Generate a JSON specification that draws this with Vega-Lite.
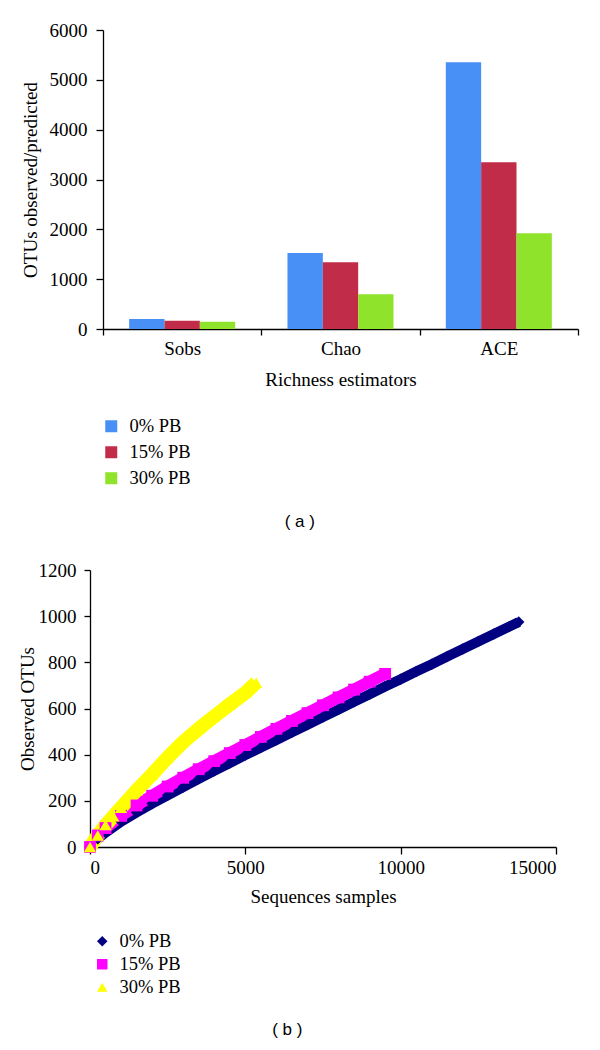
{
  "$schema": "https://vega.github.io/schema/vega-lite/v6.json",
  "background": "white",
  "padding": {"left": 18, "top": 21, "right": 5, "bottom": 5},
  "config": {
    "view": {"stroke": null},
    "font": "Liberation Serif",
    "axis": {
      "grid": false,
      "domainColor": "#000000",
      "domainWidth": 1.3,
      "tickColor": "#000000",
      "tickWidth": 1.3,
      "labelColor": "#000000",
      "titleColor": "#000000",
      "labelFont": "Liberation Serif",
      "titleFont": "Liberation Serif",
      "labelFontSize": 19,
      "titleFontSize": 19,
      "titleFontWeight": "normal"
    },
    "legend": {
      "labelFont": "Liberation Serif",
      "labelColor": "#000000",
      "labelFontSize": 18.5
    }
  },
  "datasets": {
    "bars": [
      {"Estimator": "Sobs", "Group": "0% PB", "OTUs": 200},
      {"Estimator": "Sobs", "Group": "15% PB", "OTUs": 167},
      {"Estimator": "Sobs", "Group": "30% PB", "OTUs": 147},
      {"Estimator": "Chao", "Group": "0% PB", "OTUs": 1526},
      {"Estimator": "Chao", "Group": "15% PB", "OTUs": 1339},
      {"Estimator": "Chao", "Group": "30% PB", "OTUs": 697},
      {"Estimator": "ACE", "Group": "0% PB", "OTUs": 5355},
      {"Estimator": "ACE", "Group": "15% PB", "OTUs": 3347},
      {"Estimator": "ACE", "Group": "30% PB", "OTUs": 1922}
    ],
    "curves": [
      {"Series": "0% PB", "Sequences": 0, "Observed": 0},
      {"Series": "0% PB", "Sequences": 250, "Observed": 35},
      {"Series": "0% PB", "Sequences": 500, "Observed": 62},
      {"Series": "0% PB", "Sequences": 1000, "Observed": 110},
      {"Series": "0% PB", "Sequences": 1500, "Observed": 150},
      {"Series": "0% PB", "Sequences": 2000, "Observed": 188},
      {"Series": "0% PB", "Sequences": 2500, "Observed": 224},
      {"Series": "0% PB", "Sequences": 3000, "Observed": 260},
      {"Series": "0% PB", "Sequences": 3500, "Observed": 295},
      {"Series": "0% PB", "Sequences": 4000, "Observed": 330},
      {"Series": "0% PB", "Sequences": 4500, "Observed": 364},
      {"Series": "0% PB", "Sequences": 5000, "Observed": 398},
      {"Series": "0% PB", "Sequences": 5500, "Observed": 431},
      {"Series": "0% PB", "Sequences": 6000, "Observed": 464},
      {"Series": "0% PB", "Sequences": 6500, "Observed": 497},
      {"Series": "0% PB", "Sequences": 7000, "Observed": 530},
      {"Series": "0% PB", "Sequences": 7500, "Observed": 563},
      {"Series": "0% PB", "Sequences": 8000, "Observed": 596},
      {"Series": "0% PB", "Sequences": 8500, "Observed": 629},
      {"Series": "0% PB", "Sequences": 9000, "Observed": 662},
      {"Series": "0% PB", "Sequences": 9500, "Observed": 695},
      {"Series": "0% PB", "Sequences": 10000, "Observed": 727},
      {"Series": "0% PB", "Sequences": 10500, "Observed": 760},
      {"Series": "0% PB", "Sequences": 11000, "Observed": 792},
      {"Series": "0% PB", "Sequences": 11500, "Observed": 825},
      {"Series": "0% PB", "Sequences": 12000, "Observed": 858},
      {"Series": "0% PB", "Sequences": 12500, "Observed": 890},
      {"Series": "0% PB", "Sequences": 13000, "Observed": 923},
      {"Series": "0% PB", "Sequences": 13500, "Observed": 955},
      {"Series": "0% PB", "Sequences": 13800, "Observed": 975},
      {"Series": "15% PB", "Sequences": 0, "Observed": 0},
      {"Series": "15% PB", "Sequences": 250, "Observed": 50},
      {"Series": "15% PB", "Sequences": 500, "Observed": 82},
      {"Series": "15% PB", "Sequences": 1000, "Observed": 135},
      {"Series": "15% PB", "Sequences": 1500, "Observed": 180},
      {"Series": "15% PB", "Sequences": 2000, "Observed": 222},
      {"Series": "15% PB", "Sequences": 2500, "Observed": 262},
      {"Series": "15% PB", "Sequences": 3000, "Observed": 300},
      {"Series": "15% PB", "Sequences": 3500, "Observed": 337},
      {"Series": "15% PB", "Sequences": 4000, "Observed": 372},
      {"Series": "15% PB", "Sequences": 4500, "Observed": 407},
      {"Series": "15% PB", "Sequences": 5000, "Observed": 442},
      {"Series": "15% PB", "Sequences": 5500, "Observed": 477},
      {"Series": "15% PB", "Sequences": 6000, "Observed": 512},
      {"Series": "15% PB", "Sequences": 6500, "Observed": 546},
      {"Series": "15% PB", "Sequences": 7000, "Observed": 580},
      {"Series": "15% PB", "Sequences": 7500, "Observed": 614},
      {"Series": "15% PB", "Sequences": 8000, "Observed": 648},
      {"Series": "15% PB", "Sequences": 8500, "Observed": 682},
      {"Series": "15% PB", "Sequences": 9000, "Observed": 716},
      {"Series": "15% PB", "Sequences": 9500, "Observed": 750},
      {"Series": "30% PB", "Sequences": 0, "Observed": 0},
      {"Series": "30% PB", "Sequences": 250, "Observed": 50},
      {"Series": "30% PB", "Sequences": 500, "Observed": 95},
      {"Series": "30% PB", "Sequences": 750, "Observed": 133},
      {"Series": "30% PB", "Sequences": 1000, "Observed": 170},
      {"Series": "30% PB", "Sequences": 1500, "Observed": 245},
      {"Series": "30% PB", "Sequences": 2000, "Observed": 315},
      {"Series": "30% PB", "Sequences": 2500, "Observed": 388},
      {"Series": "30% PB", "Sequences": 3000, "Observed": 455},
      {"Series": "30% PB", "Sequences": 3500, "Observed": 512},
      {"Series": "30% PB", "Sequences": 4000, "Observed": 566},
      {"Series": "30% PB", "Sequences": 4500, "Observed": 618},
      {"Series": "30% PB", "Sequences": 5000, "Observed": 668},
      {"Series": "30% PB", "Sequences": 5350, "Observed": 712}
    ]
  },
  "spacing": 31,
  "resolve": {"scale": {"color": "independent", "shape": "independent"}, "legend": {"color": "independent", "shape": "independent"}},
  "vconcat": [
    {
      "width": 488,
      "height": 299,
      "data": {"name": "bars"},
      "title": {"text": "( a )", "orient": "bottom", "frame": "bounds", "anchor": "middle", "font": "Liberation Sans", "fontSize": 17, "fontWeight": "normal", "color": "#000000", "offset": 26},
      "mark": {"type": "bar"},
      "encoding": {
        "x": {"field": "Estimator", "type": "nominal", "sort": ["Sobs", "Chao", "ACE"],
          "scale": {"paddingInner": 0, "paddingOuter": 0, "range": [13, 488]},
          "axis": {"title": "Richness estimators", "labelAngle": 0, "tickBand": "extent", "tickSize": 6, "labelPadding": 4, "titlePadding": 12}},
        "xOffset": {"field": "Group", "type": "nominal", "sort": ["0% PB", "15% PB", "30% PB"],
          "scale": {"paddingInner": 0, "paddingOuter": 0.74}},
        "y": {"field": "OTUs", "type": "quantitative", "scale": {"domain": [0, 6000]},
          "axis": {"title": "OTUs observed/predicted", "values": [0, 1000, 2000, 3000, 4000, 5000, 6000], "format": "d", "offset": -13, "tickSize": 7, "labelPadding": 9, "titlePadding": 9}},
        "color": {"field": "Group", "type": "nominal",
          "scale": {"domain": ["0% PB", "15% PB", "30% PB"], "range": ["#488FF6", "#C12C48", "#8FE32A"]},
          "legend": {"title": null, "orient": "none", "legendX": 12, "legendY": 387, "symbolType": "square", "symbolSize": 144, "symbolStrokeWidth": 0, "rowPadding": 7, "labelOffset": 9}}
      }
    },
    {
      "width": 466,
      "height": 277,
      "data": {"name": "curves"},
      "title": {"text": "( b )", "orient": "bottom", "frame": "bounds", "anchor": "middle", "font": "Liberation Sans", "fontSize": 17, "fontWeight": "normal", "color": "#000000", "offset": 25},
      "encoding": {
        "x": {"field": "Sequences", "type": "quantitative", "scale": {"domain": [0, 15000], "nice": false},
          "axis": {"title": "Sequences samples", "values": [0, 5000, 10000, 15000], "format": "d", "tickSize": 7, "labelPadding": 4, "titlePadding": 10}},
        "y": {"field": "Observed", "type": "quantitative", "scale": {"domain": [0, 1200], "nice": false},
          "axis": {"title": "Observed OTUs", "values": [0, 200, 400, 600, 800, 1000, 1200], "format": "d", "tickSize": 6, "labelPadding": 8, "titlePadding": 1}}
      },
      "layer": [
        {
          "mark": {"type": "line", "strokeCap": "butt", "strokeJoin": "round"},
          "encoding": {
            "stroke": {"field": "Series", "type": "nominal",
              "scale": {"domain": ["0% PB", "15% PB", "30% PB"], "range": ["#000080", "#FF00FF", "#FFFF00"]}, "legend": null},
            "strokeWidth": {"field": "Series", "type": "nominal",
              "scale": {"domain": ["0% PB", "15% PB", "30% PB"], "range": [10, 14, 14]}, "legend": null}
          }
        },
        {
          "mark": {"type": "point", "filled": true, "opacity": 1, "strokeWidth": 0},
          "encoding": {
            "size": {"field": "Series", "type": "nominal",
              "scale": {"domain": ["0% PB", "15% PB", "30% PB"], "range": [130, 150, 220]}, "legend": null},
            "color": {"field": "Series", "type": "nominal",
              "scale": {"domain": ["0% PB", "15% PB", "30% PB"], "range": ["#000080", "#FF00FF", "#FFFF00"]},
              "legend": {"title": null, "orient": "none", "legendX": 3, "legendY": 362, "symbolSize": 110, "symbolStrokeWidth": 0, "rowPadding": 4, "labelOffset": 8}},
            "shape": {"field": "Series", "type": "nominal",
              "scale": {"domain": ["0% PB", "15% PB", "30% PB"], "range": ["diamond", "square", "triangle-up"]},
              "legend": {"title": null, "orient": "none", "legendX": 3, "legendY": 362, "symbolSize": 110, "symbolStrokeWidth": 0, "rowPadding": 4, "labelOffset": 8}}
          }
        }
      ]
    }
  ]
}
